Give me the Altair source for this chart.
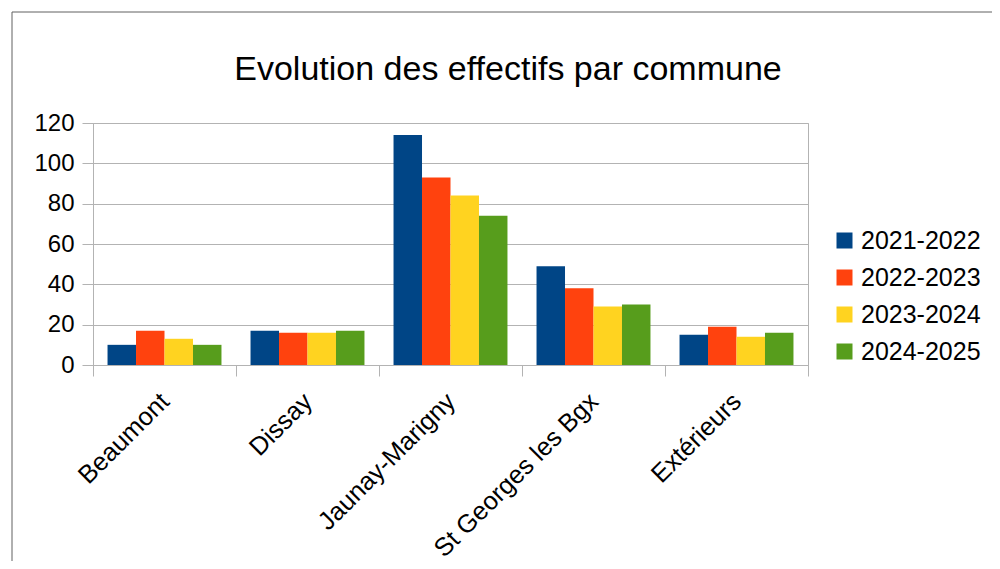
import altair as alt
import pandas as pd

communes = ["Beaumont", "Dissay", "Jaunay-Marigny", "St Georges les Bgx", "Extérieurs"]
annees = ["2021-2022", "2022-2023", "2023-2024", "2024-2025"]
v2021 = [10, 17, 114, 49, 15]
v2022 = [17, 16, 93, 38, 19]
v2023 = [13, 16, 84, 29, 14]
v2024 = [10, 17, 74, 30, 16]
colors = ["#004586", "#ff420e", "#ffd320", "#579d1c"]
titre = "Evolution des effectifs par commune"

rows = []
for annee, vals in zip(annees, [v2021, v2022, v2023, v2024]):
    for c, v in zip(communes, vals):
        rows.append({"Commune": c, "Année": annee, "Effectif": v})
df = pd.DataFrame(rows)

FONT = "Liberation Sans"
GRID = "#b3b3b3"

bars = alt.Chart(df).mark_bar().encode(
    x=alt.X("Commune:N", sort=communes, title=None,
            scale=alt.Scale(paddingInner=0, paddingOuter=0),
            axis=alt.Axis(labelAngle=-45, labelAlign="right", labelBaseline="middle",
                          labelFontSize=25.5, labelFont=FONT, labelColor="#000",
                          labelPadding=21, labelLimit=0, tickBand="extent", tickSize=11,
                          tickColor=GRID, domainColor=GRID, grid=False)),
    xOffset=alt.XOffset("Année:N", sort=annees,
                        scale=alt.Scale(paddingInner=0, paddingOuter=0.51)),
    y=alt.Y("Effectif:Q", title=None,
            scale=alt.Scale(domain=[0, 120]),
            axis=alt.Axis(values=[0, 20, 40, 60, 80, 100, 120], labelFontSize=24,
                          labelFont=FONT, labelColor="#000", tickSize=11,
                          tickColor=GRID, domainColor=GRID, gridColor=GRID,
                          labelPadding=8)),
    color=alt.Color("Année:N", sort=annees,
                    scale=alt.Scale(domain=annees, range=colors),
                    legend=alt.Legend(title=None, orient="none", legendX=739, legendY=105,
                                      symbolType="square", symbolSize=256,
                                      symbolStrokeWidth=0, labelFontSize=25,
                                      labelFont=FONT, labelColor="#000",
                                      rowPadding=11, labelOffset=4, padding=0)),
)

frame = alt.Chart(pd.DataFrame({"a": [0]})).mark_rect(
    fill=None, stroke="#606060", strokeWidth=1
).encode(x=alt.value(-81), x2=alt.value(930), y=alt.value(-111), y2=alt.value(480))

title = alt.Chart(pd.DataFrame({"t": [titre]})).mark_text(
    font=FONT, fontSize=34, color="#000", align="center", baseline="alphabetic"
).encode(text="t:N", x=alt.value(415), y=alt.value(-43))

chart = alt.layer(frame, title, bars).properties(
    width=715, height=242,
    autosize=alt.AutoSizeParams(type="none"),
    padding={"left": 85, "top": 115, "right": 184, "bottom": 196},
).configure_view(stroke=GRID).configure_axis(gridColor=GRID)

chart.save("out.html", embed_options={"renderer": "svg", "actions": False})
